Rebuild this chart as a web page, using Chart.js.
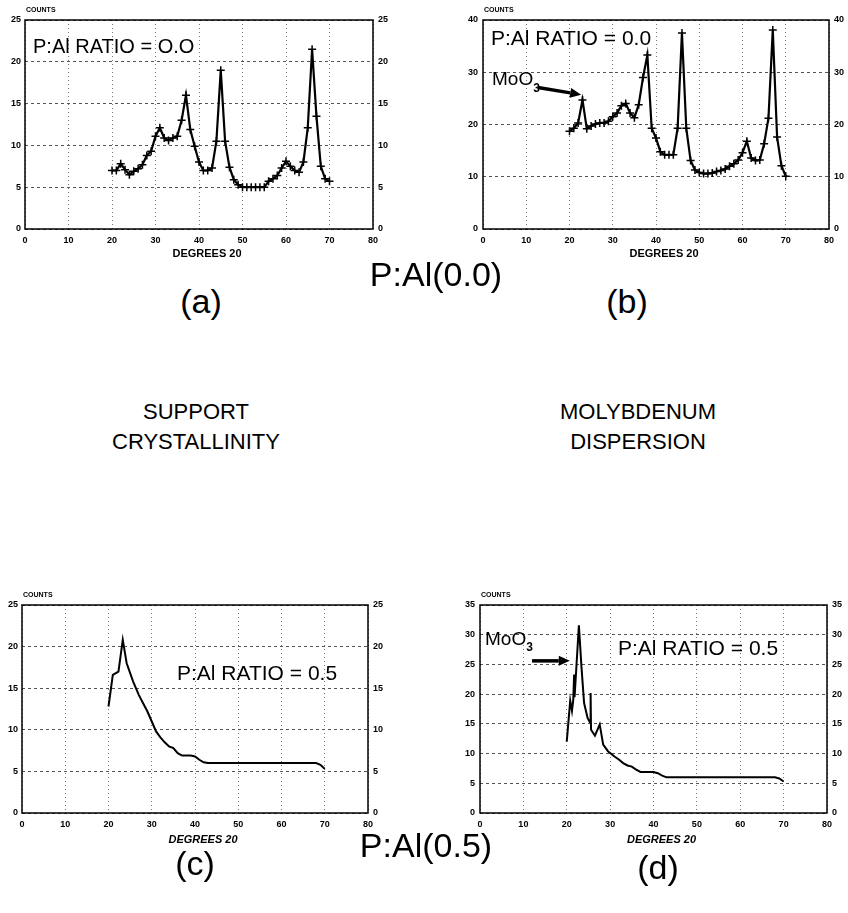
<!DOCTYPE html>
<html lang="en">
  <head>
    <meta charset="UTF-8" />
    <title>XRD patterns - P:Al ratio</title>
    <script src="https://cdn.jsdelivr.net/npm/chart.js"></script>
    <style>
      * {
        margin: 0;
        padding: 0;
        box-sizing: border-box;
      }

      body {
        width: 848px;
        height: 913px;
        background: #fff;
        position: relative;
        overflow: hidden;
        font-family: "Liberation Sans", Arial, sans-serif;
        color: #000;
      }

      .panel {
        position: absolute;
      }

      .label {
        position: absolute;
        white-space: nowrap;
        transform: translateX(-50%);
        line-height: 1;
      }

      .big {
        font-size: 34px;
      }

      .mid {
        font-size: 22px;
        text-align: center;
        line-height: 30px;
      }
    </style>
  </head>
  <body>
    <div class="panel" style="left: 0; top: 0; width: 410px; height: 275px">
      <canvas id="chartA"></canvas>
    </div>
    <div class="panel" style="left: 430px; top: 0; width: 418px; height: 275px">
      <canvas id="chartB"></canvas>
    </div>
    <div class="panel" style="left: 0; top: 580px; width: 410px; height: 290px">
      <canvas id="chartC"></canvas>
    </div>
    <div class="panel" style="left: 430px; top: 580px; width: 418px; height: 290px">
      <canvas id="chartD"></canvas>
    </div>

    <div class="label big" style="left: 436px; top: 257px">P:Al(0.0)</div>
    <div class="label big" style="left: 201px; top: 284px">(a)</div>
    <div class="label big" style="left: 627px; top: 284px">(b)</div>
    <div class="label mid" style="left: 196px; top: 397px">SUPPORT<br />CRYSTALLINITY</div>
    <div class="label mid" style="left: 638px; top: 397px">MOLYBDENUM<br />DISPERSION</div>
    <div class="label big" style="left: 426px; top: 828px">P:Al(0.5)</div>
    <div class="label big" style="left: 195px; top: 846px">(c)</div>
    <div class="label big" style="left: 658px; top: 850px">(d)</div>

    <script>
      // 2-theta positions (degrees) for the step scans of panels a and b
      const stepDegrees = [
        20, 21, 22, 23, 24, 25, 26, 27, 28, 29, 30, 31, 32, 33, 34, 35, 36,
        37, 38, 39, 40, 41, 42, 43, 44, 45, 46, 47, 48, 49, 50, 51, 52, 53,
        54, 55, 56, 57, 58, 59, 60, 61, 62, 63, 64, 65, 66, 67, 68, 69, 70,
      ];

      // (a) support crystallinity, P:Al = 0.0
      const countsA = [
        7.0, 7.0, 7.8, 7.1, 6.5, 6.9, 7.2, 7.7, 8.8, 9.3, 11.1, 12.1, 10.9,
        10.6, 10.9, 11.1, 13.0, 16.0, 11.9, 9.9, 8.0, 7.0, 7.0, 7.3, 10.5,
        19.0, 10.5, 7.4, 5.9, 5.3, 5.0, 5.0, 5.0, 5.0, 5.0, 5.0, 5.7, 6.0,
        6.4, 7.3, 8.1, 7.5, 7.0, 6.8, 8.0, 12.1, 21.5, 13.5, 7.5, 6.0, 5.7,
      ];

      // (b) molybdenum dispersion, P:Al = 0.0
      const countsB = [
        18.7, 19.3, 20.3, 24.7, 19.2, 19.7, 20.1, 20.3, 20.3, 20.6, 21.5,
        22.2, 23.6, 24.0, 22.2, 21.3, 23.8, 29.0, 33.3, 19.3, 17.4, 14.8,
        14.2, 14.2, 14.2, 19.3, 37.5, 19.3, 13.1, 11.3, 10.8, 10.6, 10.6,
        10.7, 11.0, 11.2, 11.5, 12.0, 12.5, 13.2, 14.6, 16.8, 13.6, 13.1,
        13.2, 16.3, 21.2, 38.1, 17.6, 12.1, 10.1,
      ];

      // (c) support crystallinity, P:Al = 0.5
      const degreesC = [
        20, 21, 22.3, 23.3, 24.2, 25.7, 27, 28, 29, 30, 31, 32, 33, 34, 35,
        36, 37, 38, 39, 40, 41, 42, 43, 50, 60, 68, 69, 70,
      ];
      const countsC = [
        12.8, 16.6, 17.0, 20.8, 18.0, 15.8, 14.2, 13.2, 12.2, 11.0, 9.8, 9.1,
        8.5, 8.0, 7.8, 7.2, 6.9, 6.9, 6.9, 6.8, 6.4, 6.1, 6.0, 6.0, 6.0, 6.0,
        5.8, 5.3,
      ];

      // (d) molybdenum dispersion, P:Al = 0.5
      const degreesD = [
        20, 20.8, 21.2, 21.5, 21.7, 21.8, 22.8, 23.4, 24, 24.8, 25.4, 25.5,
        25.6, 26.5, 27.6, 28.4, 29.5, 30, 31, 32, 33, 34, 35, 36, 37, 38, 39,
        40, 41, 42, 43, 50, 60, 68, 69, 70,
      ];
      const countsD = [
        12.0, 18.9, 17.2, 19.0, 23.3, 19.5, 31.6, 24.5, 18.5, 16.0, 15.2,
        20.2, 14.0, 13.0, 14.9, 11.5, 10.4, 10.1, 9.5, 9.0, 8.4, 8.0, 7.8,
        7.3, 6.9, 6.9, 6.9, 6.9, 6.7, 6.3, 6.0, 6.0, 6.0, 6.0, 5.8, 5.3,
      ];

      const tickFont = { family: "Liberation Sans", size: 9, weight: "bold" };
      const ink = "#000";

      function toPoints(xs, ys) {
        return xs.map((x, i) => ({ x: x, y: ys[i] }));
      }

      // draws frame, "COUNTS", "DEGREES 20", ratio text, MoO3 label and arrow
      const decorPlugin = {
        id: "decor",
        beforeDatasetsDraw(chart) {
          const a = chart.chartArea;
          const ctx = chart.ctx;
          ctx.save();
          ctx.strokeStyle = ink;
          ctx.lineWidth = 1.5;
          ctx.strokeRect(a.left, a.top, a.right - a.left, a.bottom - a.top);
          ctx.restore();
        },
        afterDraw(chart, args, opts) {
          const a = chart.chartArea;
          const ctx = chart.ctx;
          const xs = chart.scales.x;
          const ys = chart.scales.y;
          ctx.save();
          ctx.fillStyle = ink;
          ctx.textBaseline = "alphabetic";

          ctx.font = "bold 7px 'Liberation Sans'";
          ctx.textAlign = "left";
          ctx.fillText("COUNTS", a.left + 1, a.top - 8);

          ctx.font = (opts.italic ? "italic " : "") + "bold 11px 'Liberation Sans'";
          ctx.textAlign = "center";
          ctx.fillText("DEGREES 20", (a.left + a.right) / 2 + 8, a.bottom + opts.degY);

          ctx.font = opts.ratioSize + "px 'Liberation Sans'";
          ctx.textAlign = "left";
          ctx.fillText(opts.ratio, a.left + opts.ratioX, a.top + opts.ratioY);

          if (opts.moo3) {
            const m = opts.moo3;
            ctx.font = "19px 'Liberation Sans'";
            ctx.fillText("MoO", a.left + m.textX, a.top + m.textY);
            const w = ctx.measureText("MoO").width;
            ctx.font = "bold 12px 'Liberation Sans'";
            ctx.fillText("3", a.left + m.textX + w, a.top + m.textY + m.subDy);

            // arrow, positioned in data units
            const x0 = xs.getPixelForValue(m.from[0]);
            const y0 = ys.getPixelForValue(m.from[1]);
            const x1 = xs.getPixelForValue(m.to[0]);
            const y1 = ys.getPixelForValue(m.to[1]);
            const ang = Math.atan2(y1 - y0, x1 - x0);
            const head = 11;
            ctx.strokeStyle = ink;
            ctx.lineWidth = 3.5;
            ctx.beginPath();
            ctx.moveTo(x0, y0);
            ctx.lineTo(x1 - head * Math.cos(ang), y1 - head * Math.sin(ang));
            ctx.stroke();
            ctx.beginPath();
            ctx.moveTo(x1, y1);
            ctx.lineTo(
              x1 - head * Math.cos(ang) + 5 * Math.sin(ang),
              y1 - head * Math.sin(ang) - 5 * Math.cos(ang)
            );
            ctx.lineTo(
              x1 - head * Math.cos(ang) - 5 * Math.sin(ang),
              y1 - head * Math.sin(ang) + 5 * Math.cos(ang)
            );
            ctx.closePath();
            ctx.fill();
          }
          ctx.restore();
        },
      };

      function makeChart(id, points, cfg) {
        const ctx = document.getElementById(id).getContext("2d");
        const yAxis = (position, width, pad) => ({
          type: "linear",
          position: position,
          min: 0,
          max: cfg.yMax,
          afterFit: (s) => {
            s.width = width;
          },
          ticks: {
            stepSize: cfg.yStep,
            font: tickFont,
            color: ink,
            padding: pad,
          },
          grid: {
            display: position === "left",
            color: "#555",
            lineWidth: 1,
            drawTicks: false,
          },
          border: { display: false, dash: [3, 3] },
        });

        return new Chart(ctx, {
          type: "line",
          data: {
            datasets: [
              {
                data: points,
                borderColor: ink,
                backgroundColor: ink,
                borderWidth: cfg.markers ? 2.2 : 2,
                tension: 0,
                pointStyle: "cross",
                pointRadius: cfg.markers ? 4 : 0,
                pointBorderWidth: 1.5,
                pointBorderColor: ink,
              },
            ],
          },
          options: {
            responsive: true,
            maintainAspectRatio: false,
            animation: false,
            events: [],
            layout: { padding: { top: cfg.top, left: 0, right: 0, bottom: 0 } },
            plugins: {
              legend: { display: false },
              tooltip: { enabled: false },
              decor: cfg.decor,
            },
            scales: {
              x: {
                type: "linear",
                min: 0,
                max: 80,
                afterFit: (s) => {
                  s.height = cfg.xHeight;
                },
                ticks: {
                  stepSize: 10,
                  font: tickFont,
                  color: ink,
                  padding: 6,
                  maxRotation: 0,
                },
                grid: {
                  color: "#777",
                  lineWidth: 1,
                  drawTicks: false,
                },
                border: { display: false, dash: [1, 3] },
              },
              y: yAxis("left", cfg.leftW, cfg.leftPad),
              y2: yAxis("right", cfg.rightW, 5),
            },
          },
          plugins: [decorPlugin],
        });
      }

      makeChart("chartA", toPoints(stepDegrees, countsA), {
        yMax: 25,
        yStep: 5,
        markers: true,
        top: 20,
        xHeight: 46,
        leftW: 25,
        leftPad: 4,
        rightW: 37,
        decor: {
          degY: 28,
          ratio: "P:Al RATIO = O.O",
          ratioSize: 20,
          ratioX: 8,
          ratioY: 33,
        },
      });

      makeChart("chartB", toPoints(stepDegrees, countsB), {
        yMax: 40,
        yStep: 10,
        markers: true,
        top: 20,
        xHeight: 46,
        leftW: 53,
        leftPad: 5,
        rightW: 19,
        decor: {
          degY: 28,
          ratio: "P:Al RATIO = 0.0",
          ratioSize: 21,
          ratioX: 8,
          ratioY: 25,
          moo3: { textX: 9, textY: 65, subDy: 7, from: [12.7, 27.1], to: [22.7, 25.7] },
        },
      });

      makeChart("chartC", toPoints(degreesC, countsC), {
        yMax: 25,
        yStep: 5,
        markers: false,
        top: 25,
        xHeight: 57,
        leftW: 22,
        leftPad: 4,
        rightW: 42,
        decor: {
          degY: 30,
          italic: true,
          ratio: "P:Al RATIO = 0.5",
          ratioSize: 21,
          ratioX: 155,
          ratioY: 75,
        },
      });

      makeChart("chartD", toPoints(degreesD, countsD), {
        yMax: 35,
        yStep: 5,
        markers: false,
        top: 25,
        xHeight: 57,
        leftW: 50,
        leftPad: 5,
        rightW: 21,
        decor: {
          degY: 30,
          italic: true,
          ratio: "P:Al RATIO = 0.5",
          ratioSize: 21,
          ratioX: 138,
          ratioY: 50,
          moo3: { textX: 5, textY: 40, subDy: 6, from: [12.0, 25.6], to: [20.7, 25.6] },
        },
      });
    </script>
  </body>
</html>
